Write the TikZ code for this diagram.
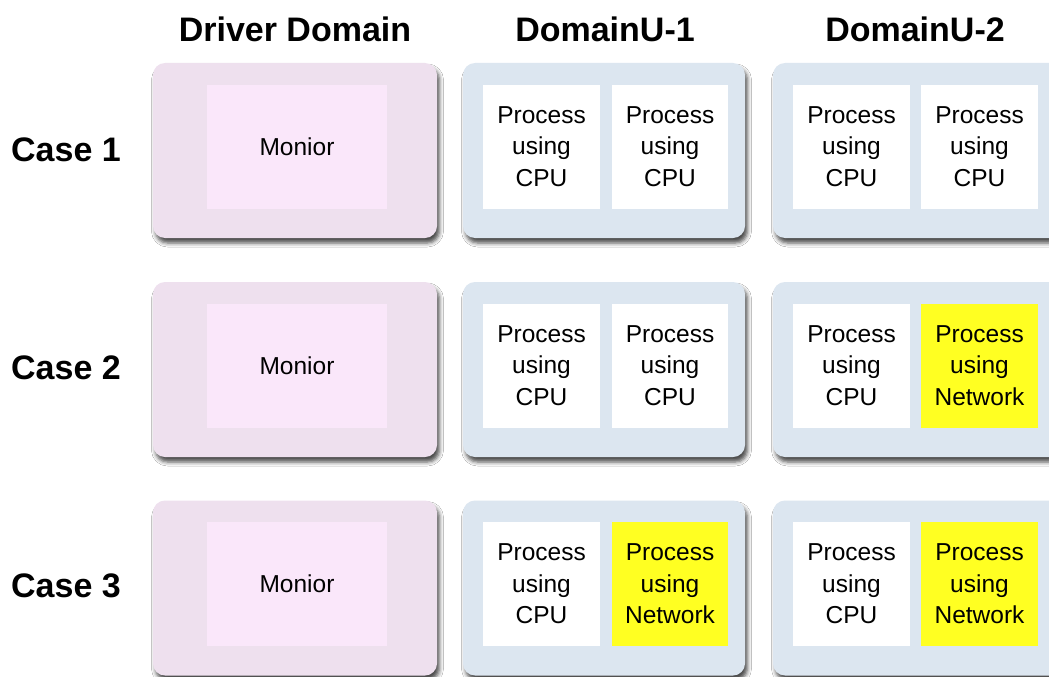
\documentclass[tikz,border=0pt]{standalone}
\usepackage{fontspec}
\setmainfont{Liberation Sans}
\usetikzlibrary{shadows.blur}
\definecolor{drvouter}{HTML}{EEE0EE}
\definecolor{drvinner}{HTML}{FAE7FA}
\definecolor{domouter}{HTML}{DCE6F0}
\definecolor{netyellow}{HTML}{FFFF22}
\tikzset{
  outerbox/.style={fill=#1, rounded corners=12pt, minimum height=175pt,
    blur shadow={shadow xshift=2.5pt, shadow yshift=-5pt, shadow blur radius=4pt, shadow opacity=70}},
  innerbox/.style={fill=#1, minimum height=124pt, inner sep=0pt,
    align=center, font=\fontsize{24.5}{31.5}\selectfont},
  heading/.style={font=\fontsize{34}{40}\selectfont\bfseries},
}
\begin{document}
\begin{tikzpicture}[x=1pt,y=-1pt]
\useasboundingbox (0,0) rectangle (1049,677);
\clip (0,0) rectangle (1049,677);
\fill[white] (0,0) rectangle (1049,677);

% column headings
\node[heading] (hd) at (295,29) {Driver Domain};
\node[heading] (hu1) at (605,29) {DomainU-1};
\node[heading] (hu2) at (915,29) {DomainU-2};

% row labels
\node[heading] (c1) at (66,150) {Case 1};
\node[heading] (c2) at (66,368) {Case 2};
\node[heading] (c3) at (66,586) {Case 3};

% rows
\foreach \r/\cy in {1/150.5, 2/369.5, 3/588} {
  \node[outerbox=drvouter, minimum width=284pt] (drv\r) at (295,\cy) {};
  \node[outerbox=domouter, minimum width=282pt] (du1\r) at (604,\cy) {};
  \node[outerbox=domouter, minimum width=290pt] (du2\r) at (918,\cy) {};
  \node[innerbox=drvinner, minimum width=180pt] (mon\r) at (297,\cy-4) {Monior};
}

% processes, DomainU-1
\node[innerbox=white, minimum width=117pt] (p11a) at (541.5,146.5) {Process\\using\\CPU};
\node[innerbox=white, minimum width=116pt] (p11b) at (670,146.5) {Process\\using\\CPU};
\node[innerbox=white, minimum width=117pt] (p12a) at (541.5,365.5) {Process\\using\\CPU};
\node[innerbox=white, minimum width=116pt] (p12b) at (670,365.5) {Process\\using\\CPU};
\node[innerbox=white, minimum width=117pt] (p13a) at (541.5,584) {Process\\using\\CPU};
\node[innerbox=netyellow, minimum width=116pt] (p13b) at (670,584) {Process\\using\\Network};

% processes, DomainU-2
\node[innerbox=white, minimum width=117pt] (p21a) at (851.5,146.5) {Process\\using\\CPU};
\node[innerbox=white, minimum width=117pt] (p21b) at (979.5,146.5) {Process\\using\\CPU};
\node[innerbox=white, minimum width=117pt] (p22a) at (851.5,365.5) {Process\\using\\CPU};
\node[innerbox=netyellow, minimum width=117pt] (p22b) at (979.5,365.5) {Process\\using\\Network};
\node[innerbox=white, minimum width=117pt] (p23a) at (851.5,584) {Process\\using\\CPU};
\node[innerbox=netyellow, minimum width=117pt] (p23b) at (979.5,584) {Process\\using\\Network};
\end{tikzpicture}
\end{document}
